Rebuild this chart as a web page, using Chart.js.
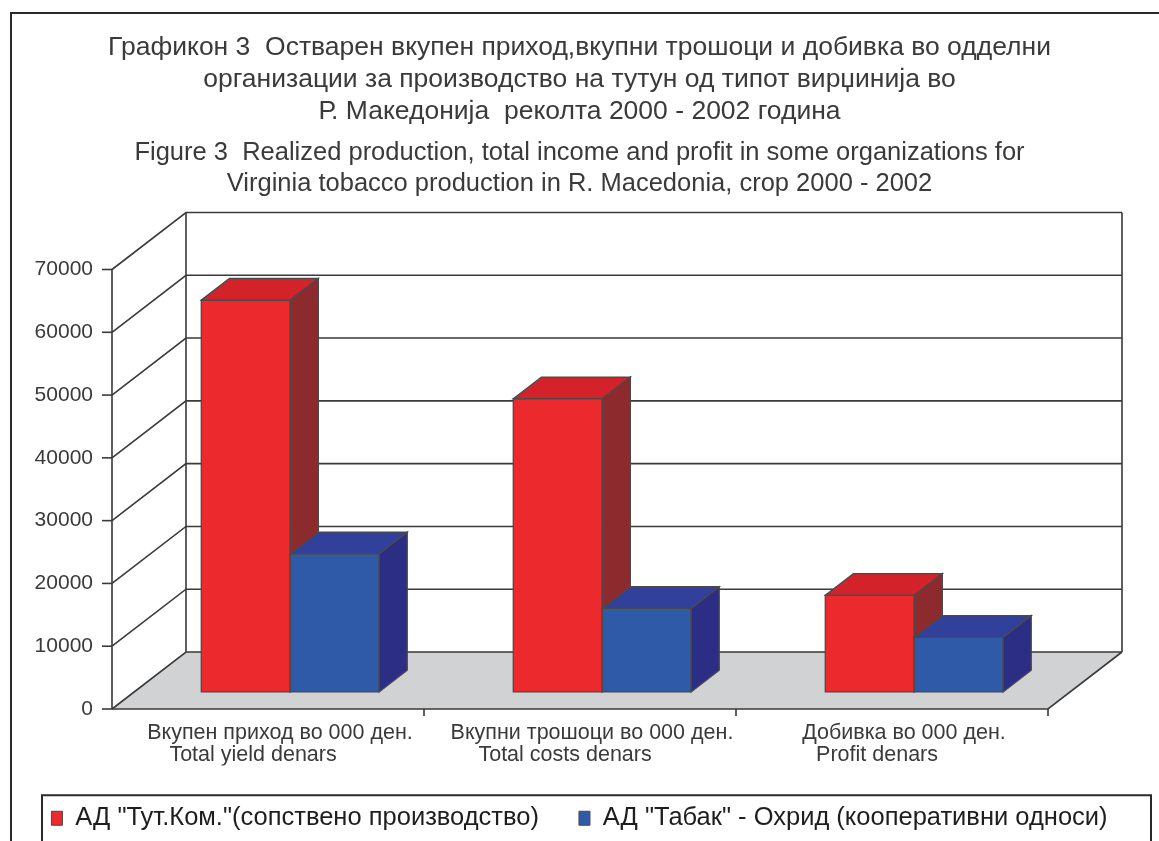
<!DOCTYPE html>
<html>
<head>
<meta charset="utf-8">
<script src="https://cdn.jsdelivr.net/npm/chart.js@4.4.1/dist/chart.umd.min.js"></script>
<style>
  html, body { margin: 0; padding: 0; background: #fff; }
  canvas { display: block; }
</style>
</head>
<body>
<canvas id="chart" width="1159" height="841"></canvas>
<script>
// data
const categories = [
    ["Вкупен приход во 000 ден.", "Total yield denars"],
    ["Вкупни трошоци во 000 ден.", "Total costs denars"],
    ["Добивка во 000 ден.", "Profit denars"]
];
const seriesNames = [
    'АД "Тут.Ком."(сопствено производство)',
    'АД "Табак" - Охрид (кооперативни односи)'
];
const tutKomValues = [62400, 46700, 15400];
const tabakValues = [22000, 13300, 8700];
const yMin = 0;
const yMax = 70000;
const yStep = 10000;
const titleLines = [
    "Графикон 3  Остварен вкупен приход,вкупни трошоци и добивка во одделни",
    "организации за производство на тутун од типот вирџинија во",
    "Р. Македонија  реколта 2000 - 2002 година"
];
const subtitleLines = [
    "Figure 3  Realized production, total income and profit in some organizations for",
    "Virginia tobacco production in R. Macedonia, crop 2000 - 2002"
];

const FONT = "'Liberation Sans', Arial, sans-serif";

// depth of the 3d box (front plane -> back wall) and where the bars sit in it
const DEPTH_X = 74;
const DEPTH_Y = -57;
const BAR_FRONT = 0.3;
const BAR_BACK = 0.68;

const LEGEND_FONT = 25.5;
const LEGEND_PAD = 40;
const PLOT_BOTTOM = 709;

const faces = [
    { front: "#ec2a2e", top: "#d32229", side: "#8d2a2e" },
    { front: "#2f5aa8", top: "#31409a", side: "#2c2e86" }
];

function poly(ctx, pts, fill, stroke) {
    ctx.beginPath();
    ctx.moveTo(pts[0][0], pts[0][1]);
    for (let i = 1; i < pts.length; i++) ctx.lineTo(pts[i][0], pts[i][1]);
    ctx.closePath();
    ctx.fillStyle = fill;
    ctx.fill();
    ctx.strokeStyle = stroke;
    ctx.lineWidth = 1.3;
    ctx.stroke();
}

const box3d = {
    id: "box3d",
    beforeDatasetsDraw(chart) {
        const ctx = chart.ctx;
        const { left, right } = chart.chartArea;
        const ys = chart.scales.y;
        const xs = chart.scales.x;
        const y0 = ys.getPixelForValue(yMin);
        const yTop = ys.getPixelForValue(yMax);
        ctx.save();

        // floor
        ctx.beginPath();
        ctx.moveTo(left, y0);
        ctx.lineTo(left + DEPTH_X, y0 + DEPTH_Y);
        ctx.lineTo(right + DEPTH_X, y0 + DEPTH_Y);
        ctx.lineTo(right, y0);
        ctx.closePath();
        ctx.fillStyle = "#d1d2d4";
        ctx.fill();

        // grid lines on left wall + back wall, tick marks on front axis
        ctx.strokeStyle = "#3a3a3a";
        ctx.lineWidth = 1.6;
        ys.ticks.forEach(t => {
            const py = ys.getPixelForValue(t.value);
            ctx.beginPath();
            ctx.moveTo(left, py);
            ctx.lineTo(left + DEPTH_X, py + DEPTH_Y);
            ctx.lineTo(right + DEPTH_X, py + DEPTH_Y);
            ctx.stroke();
            ctx.beginPath();
            ctx.moveTo(left - 10, py);
            ctx.lineTo(left, py);
            ctx.stroke();
        });

        // wall edges
        ctx.beginPath();
        ctx.moveTo(left + DEPTH_X, y0 + DEPTH_Y);
        ctx.lineTo(left + DEPTH_X, yTop + DEPTH_Y);
        ctx.moveTo(right + DEPTH_X, y0 + DEPTH_Y);
        ctx.lineTo(right + DEPTH_X, yTop + DEPTH_Y);
        ctx.moveTo(left, y0);
        ctx.lineTo(left, yTop);
        ctx.moveTo(left, y0);
        ctx.lineTo(right, y0);
        ctx.lineTo(right + DEPTH_X, y0 + DEPTH_Y);
        ctx.stroke();

        // category boundary ticks on the front floor edge
        const half = (xs.getPixelForValue(1) - xs.getPixelForValue(0)) / 2;
        ctx.beginPath();
        for (let i = 0; i < categories.length; i++) {
            const bx = xs.getPixelForValue(i) + half;
            ctx.moveTo(bx, y0);
            ctx.lineTo(bx, y0 + 7);
        }
        ctx.stroke();

        // bars as boxes
        const fx = BAR_FRONT * DEPTH_X, fy = BAR_FRONT * DEPTH_Y;
        const dx = (BAR_BACK - BAR_FRONT) * DEPTH_X, dy = (BAR_BACK - BAR_FRONT) * DEPTH_Y;
        chart.data.datasets.forEach((ds, di) => {
            const meta = chart.getDatasetMeta(di);
            const c = faces[di];
            meta.data.forEach(bar => {
                const l = bar.x - bar.width / 2 + fx;
                const r = bar.x + bar.width / 2 + fx;
                const t = bar.y + fy;
                const b = bar.base + fy;
                poly(ctx, [[l, t], [r, t], [r, b], [l, b]], c.front, "#4a4a4a");
                poly(ctx, [[l, t], [l + dx, t + dy], [r + dx, t + dy], [r, t]], c.top, "#4a4a4a");
                poly(ctx, [[r, t], [r + dx, t + dy], [r + dx, b + dy], [r, b]], c.side, "#4a4a4a");
            });
        });

        ctx.restore();
        return false;
    },
    afterDraw(chart) {
        const ctx = chart.ctx;
        const lg = chart.legend;
        const textMid = lg.top + LEGEND_PAD + LEGEND_FONT / 2;
        ctx.save();
        ctx.strokeStyle = "#2a2a2a";
        ctx.lineWidth = 2;
        // legend frame
        ctx.strokeRect(42, textMid - 23, 1109, 60);
        // outer frame (top and left edges visible)
        ctx.beginPath();
        ctx.moveTo(1159, 13);
        ctx.lineTo(11, 13);
        ctx.lineTo(11, 841);
        ctx.stroke();
        ctx.restore();
    }
};

new Chart(document.getElementById("chart"), {
    type: "bar",
    data: {
        labels: categories,
        datasets: [
            {
                label: seriesNames[0],
                data: tutKomValues,
                backgroundColor: faces[0].front,
                borderColor: "#4a4a4a",
                borderWidth: 1
            },
            {
                label: seriesNames[1],
                data: tabakValues,
                backgroundColor: faces[1].front,
                borderColor: "#4a4a4a",
                borderWidth: 1
            }
        ]
    },
    options: {
        responsive: false,
        animation: false,
        devicePixelRatio: 1,
        layout: { padding: 0 },
        categoryPercentage: 0.57,
        barPercentage: 1,
        scales: {
            x: {
                grid: { display: false },
                border: { display: false },
                ticks: {
                    color: "#3a3a3a",
                    padding: 5,
                    maxRotation: 0,
                    autoSkip: false,
                    font: { family: FONT, size: 21.5, lineHeight: 22 / 21.5 },
                    // first line sits a little right, second a little left, as in the original
                    callback(value) {
                        const lines = categories[value];
                        return ["    " + lines[0], lines[1] + "     "];
                    }
                },
                // legend height in Chart.js = item height + padding + 10
                afterFit(s) { s.height = 841 - PLOT_BOTTOM - (LEGEND_FONT + LEGEND_PAD + 10); }
            },
            y: {
                min: yMin,
                max: yMax,
                grid: { display: false },
                border: { display: false },
                ticks: {
                    stepSize: yStep,
                    color: "#3a3a3a",
                    padding: 11,
                    font: { family: FONT, size: 21 },
                    callback: v => String(v)
                },
                afterFit(s) { s.width = 112; }
            },
            pad: {
                position: "right",
                grid: { display: false },
                border: { display: false },
                ticks: { display: false },
                afterFit(s) { s.width = 111; }
            }
        },
        plugins: {
            title: {
                display: true,
                text: titleLines,
                color: "#3a3a3a",
                padding: { top: 32, bottom: 0 },
                font: { family: FONT, size: 26.5, weight: "normal", lineHeight: 32 / 26.5 }
            },
            subtitle: {
                display: true,
                text: subtitleLines,
                color: "#3a3a3a",
                padding: { top: 9.5, bottom: 70 },
                font: { family: FONT, size: 25.5, lineHeight: 31 / 25.5 }
            },
            legend: {
                position: "bottom",
                labels: {
                    color: "#1e1e1e",
                    boxWidth: 11,
                    boxHeight: 14,
                    padding: LEGEND_PAD,
                    font: { family: FONT, size: LEGEND_FONT, lineHeight: 1 }
                }
            },
            tooltip: { enabled: false }
        }
    },
    plugins: [box3d]
});
</script>
</body>
</html>
